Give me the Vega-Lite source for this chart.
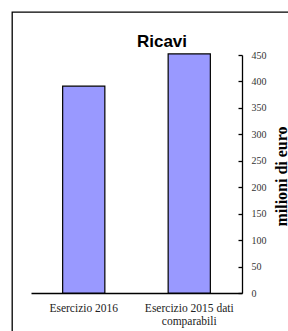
{
  "$schema": "https://vega.github.io/schema/vega-lite/v6.json",
  "width": 278,
  "height": 321,
  "autosize": {"type": "none"},
  "padding": {"left": 12, "top": 12, "right": 0, "bottom": 0},
  "background": "white",
  "config": {"view": {"stroke": "black", "strokeWidth": 1.3}},
  "title": {
    "text": "Ricavi",
    "font": "Liberation Sans",
    "fontSize": 17,
    "fontWeight": "bold",
    "color": "black",
    "anchor": "middle",
    "frame": "group",
    "baseline": "alphabetic",
    "offset": -52,
    "dx": 11
  },
  "data": {
    "values": [
      {"esercizio": "Esercizio 2016", "ricavi": 391},
      {"esercizio": "Esercizio 2015 dati comparabili", "ricavi": 452}
    ]
  },
  "mark": {"type": "bar", "color": "#9999ff", "stroke": "black", "strokeWidth": 1.2},
  "encoding": {
    "x": {
      "field": "esercizio",
      "type": "nominal",
      "sort": null,
      "scale": {"range": [19, 230], "paddingInner": 0.6, "paddingOuter": 0.3},
      "axis": {
        "title": null,
        "orient": "bottom",
        "offset": -40,
        "domainColor": "black",
        "domainWidth": 1.3,
        "ticks": false,
        "labelAngle": 0,
        "labelFont": "Liberation Serif",
        "labelFontSize": 11.5,
        "labelColor": "#222",
        "labelPadding": 9,
        "labelBaseline": "top",
        "labelLineHeight": 13,
        "labelLimit": 0,
        "labelExpr": "datum.value == 'Esercizio 2015 dati comparabili' ? ['Esercizio 2015 dati', 'comparabili'] : datum.value"
      }
    },
    "y": {
      "field": "ricavi",
      "type": "quantitative",
      "scale": {"domain": [0, 450], "nice": false, "range": [281, 43]},
      "axis": {
        "orient": "right",
        "offset": -48,
        "values": [0, 50, 100, 150, 200, 250, 300, 350, 400, 450],
        "grid": false,
        "domainColor": "black",
        "domainWidth": 1.3,
        "tickColor": "black",
        "tickWidth": 1.3,
        "tickSize": -4,
        "labelFont": "Liberation Serif",
        "labelFontSize": 10,
        "labelColor": "#333",
        "labelPadding": 13,
        "labelFlush": false,
        "title": "milioni di euro",
        "titleFont": "Liberation Serif",
        "titleFontSize": 16,
        "titleFontWeight": "bold",
        "titleColor": "black",
        "titleAngle": 270,
        "titleBaseline": "top",
        "titleAlign": "center",
        "titleX": 31,
        "titleY": 164
      }
    }
  }
}
